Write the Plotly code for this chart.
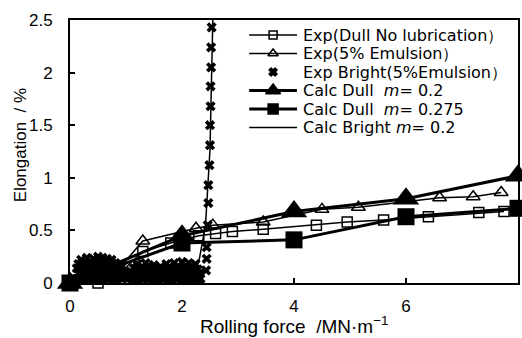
import plotly.graph_objects as go

# ---- data ----
exp_dull_x = [0, 0.25, 0.5, 0.9, 1.3, 1.8, 2.3, 2.6, 2.9, 3.45, 4.4, 4.95, 5.6, 6.4, 7.3, 7.75]
exp_dull_y = [0, -0.01, 0.0, 0.1, 0.3, 0.38, 0.45, 0.47, 0.49, 0.51, 0.55, 0.58, 0.6, 0.63, 0.67, 0.68]

exp_emul_x = [0, 0.25, 0.55, 0.85, 1.3, 2.25, 2.55, 3.45, 4.5, 5.15, 6.6, 7.2, 7.7]
exp_emul_y = [0, 0.05, 0.1, 0.12, 0.4, 0.52, 0.55, 0.58, 0.7, 0.72, 0.81, 0.82, 0.86]

# Exp Bright (5% Emulsion): dense cloud at low force, then the steep rise
bright_l1_x = [0.12, 0.18, 0.24, 0.30, 0.36, 0.42, 0.48, 0.54, 0.60, 0.66, 0.72, 0.78, 0.84, 0.90]
bright_l1_y = [0.04, 0.05, 0.03, 0.04, 0.05, 0.04, 0.03, 0.05, 0.04, 0.04, 0.05, 0.03, 0.04, 0.05]
bright_l2_x = [0.15, 0.21, 0.27, 0.33, 0.39, 0.45, 0.51, 0.57, 0.63, 0.69, 0.75, 0.81, 0.87, 0.93]
bright_l2_y = [0.09, 0.10, 0.09, 0.08, 0.10, 0.09, 0.09, 0.10, 0.08, 0.09, 0.10, 0.09, 0.08, 0.09]
bright_l3_x = [0.12, 0.18, 0.24, 0.30, 0.36, 0.42, 0.48, 0.54, 0.60, 0.66, 0.72, 0.78, 0.84, 0.90]
bright_l3_y = [0.14, 0.15, 0.14, 0.13, 0.15, 0.14, 0.14, 0.15, 0.13, 0.14, 0.15, 0.14, 0.13, 0.14]
bright_l4_x = [0.15, 0.21, 0.27, 0.33, 0.39, 0.45, 0.51, 0.57, 0.63, 0.69, 0.75, 0.81, 0.87, 0.93]
bright_l4_y = [0.18, 0.19, 0.20, 0.19, 0.18, 0.20, 0.19, 0.19, 0.20, 0.18, 0.19, 0.19, 0.17, 0.16]
bright_l5_x = [0.20, 0.30, 0.42, 0.50, 0.58, 0.66, 0.74]
bright_l5_y = [0.22, 0.24, 0.23, 0.25, 0.24, 0.23, 0.22]
bright_r1_x = [0.97, 1.02, 1.08, 1.14, 1.20, 1.26, 1.32, 1.38, 1.44, 1.50, 1.56, 1.62, 1.68, 1.74, 1.80, 1.86, 1.92, 1.98, 2.04, 2.10, 2.16, 2.22, 2.28, 2.33]
bright_r1_y = [0.05, 0.04, 0.05, 0.04, 0.03, 0.05, 0.04, 0.04, 0.05, 0.03, 0.04, 0.05, 0.04, 0.04, 0.03, 0.05, 0.04, 0.04, 0.05, 0.03, 0.04, 0.05, 0.04, 0.04]
bright_r2_x = [0.99, 1.05, 1.11, 1.17, 1.23, 1.29, 1.35, 1.41, 1.47, 1.53, 1.59, 1.65, 1.71, 1.77, 1.83, 1.89, 1.95, 2.01, 2.07, 2.13, 2.19, 2.25, 2.31]
bright_r2_y = [0.11, 0.09, 0.10, 0.09, 0.08, 0.10, 0.09, 0.09, 0.10, 0.08, 0.09, 0.10, 0.09, 0.09, 0.08, 0.10, 0.09, 0.09, 0.10, 0.08, 0.09, 0.10, 0.09]
bright_r3_x = [1.14, 1.20, 1.26, 1.32, 1.38, 1.44, 1.50, 1.56, 1.62, 1.68, 1.74, 1.80, 1.86, 1.92, 1.98, 2.04, 2.10, 2.16, 2.22, 2.28]
bright_r3_y = [0.14, 0.15, 0.13, 0.14, 0.15, 0.14, 0.13, 0.14, 0.15, 0.14, 0.13, 0.14, 0.15, 0.14, 0.13, 0.15, 0.14, 0.15, 0.14, 0.13]
bright_r4_x = [1.20, 1.35, 1.50, 1.72, 1.86, 2.00, 2.12, 2.24]
bright_r4_y = [0.18, 0.19, 0.17, 0.18, 0.19, 0.20, 0.19, 0.18]
bright_rise_x = [2.43, 2.44, 2.44, 2.46, 2.47, 2.47, 2.49, 2.50, 2.50, 2.51, 2.51, 2.52, 2.52, 2.53]
bright_rise_y = [0.12, 0.23, 0.34, 0.55, 0.76, 0.93, 1.12, 1.31, 1.50, 1.68, 1.87, 2.05, 2.24, 2.43]

bright_x = (bright_l1_x + bright_l2_x + bright_l3_x + bright_l4_x + bright_l5_x +
            bright_r1_x + bright_r2_x + bright_r3_x + bright_r4_x + bright_rise_x)
bright_y = (bright_l1_y + bright_l2_y + bright_l3_y + bright_l4_y + bright_l5_y +
            bright_r1_y + bright_r2_y + bright_r3_y + bright_r4_y + bright_rise_y)

calc_x = [0, 2, 4, 6, 8]
calc02_y = [0, 0.45, 0.68, 0.8, 1.02]
calc0275_y = [0, 0.38, 0.41, 0.63, 0.71]

calc_bright_x = [0, 0.3, 1.0, 2.2, 2.3, 2.42, 2.5, 2.55]
calc_bright_y = [0, 0.1, 0.1, 0.12, 0.2, 0.55, 1.27, 2.5]

x_ticks = [0, 2, 4, 6, 8]
y_ticks = [0, 0.5, 1, 1.5, 2, 2.5]
y_tick_text = ["0", "0.5", "1", "1.5", "2", "2.5"]

legend_names = ["Exp(Dull No lubrication）", "Exp(5% Emulsion）", "Exp Bright(5%Emulsion）",
                "Calc Dull  <i>m</i>= 0.2", "Calc Dull  <i>m</i>= 0.275", "Calc Bright <i>m</i>= 0.2"]
x_title = "Rolling force  /MN·m<sup>−1</sup>"
y_title = "Elongation  / %"

FONT = "Liberation Sans, Arial, sans-serif"
LFONT = "DejaVu Sans, sans-serif"

# legend sample styles per series
styles = [
    dict(lw=1.5, sym="square-open", lms=8),
    dict(lw=1.5, sym="triangle-up-open", lms=9),
    dict(lw=0, sym="x", lms=7),
    dict(lw=3, sym="triangle-up", lms=13),
    dict(lw=3, sym="square", lms=10),
    dict(lw=1.5, sym=None, lms=0),
]

fig = go.Figure()
fig.add_trace(go.Scatter(
    x=exp_dull_x, y=exp_dull_y, mode="lines+markers", name=legend_names[0],
    line=dict(color="black", width=1.5),
    marker=dict(symbol="square-open", size=10, color="black", line=dict(width=1.5)),
    cliponaxis=False, showlegend=False))
fig.add_trace(go.Scatter(
    x=exp_emul_x, y=exp_emul_y, mode="lines+markers", name=legend_names[1],
    line=dict(color="black", width=1.5),
    marker=dict(symbol="triangle-up-open", size=12, color="black", line=dict(width=1.5)),
    cliponaxis=False, showlegend=False))
fig.add_trace(go.Scatter(
    x=bright_x, y=bright_y, mode="markers", name=legend_names[2],
    marker=dict(symbol="x", size=9, color="black"),
    cliponaxis=False, showlegend=False))
fig.add_trace(go.Scatter(
    x=calc_x, y=calc02_y, mode="lines+markers", name=legend_names[3],
    line=dict(color="black", width=3),
    marker=dict(symbol="triangle-up", size=23, color="black"),
    cliponaxis=False, showlegend=False))
fig.add_trace(go.Scatter(
    x=calc_x, y=calc0275_y, mode="lines+markers", name=legend_names[4],
    line=dict(color="black", width=3),
    marker=dict(symbol="square", size=17, color="black"),
    cliponaxis=False, showlegend=False))
fig.add_trace(go.Scatter(
    x=calc_bright_x, y=calc_bright_y, mode="lines", name=legend_names[5],
    line=dict(color="black", width=1.5),
    cliponaxis=False, showlegend=False))

# ---- legend drawn inside the plot on a hidden 0..1 overlay axis ----
PLOT_L, PLOT_R, PLOT_T, PLOT_B = 70, 520, 20, 283
def px_x(p):
    return (p - PLOT_L) / (PLOT_R - PLOT_L)
def px_y(p):
    return (PLOT_B - p) / (PLOT_B - PLOT_T)

leg_rows = [35, 53.5, 72, 90.5, 109, 127.5]
leg_x0, leg_xm, leg_x1, leg_tx = px_x(250), px_x(274), px_x(298), px_x(302)
annotations = []
for i, (name, st) in enumerate(zip(legend_names, styles)):
    yy = px_y(leg_rows[i])
    if st["lw"] > 0:
        fig.add_trace(go.Scatter(x=[leg_x0, leg_x1], y=[yy, yy], mode="lines",
                                 line=dict(color="black", width=st["lw"]),
                                 xaxis="x2", yaxis="y2", showlegend=False, hoverinfo="skip"))
    if st["sym"]:
        fig.add_trace(go.Scatter(x=[leg_xm], y=[yy], mode="markers",
                                 marker=dict(symbol=st["sym"], size=st["lms"], color="black",
                                             line=dict(width=1.5, color="black")),
                                 xaxis="x2", yaxis="y2", showlegend=False, hoverinfo="skip",
                                 cliponaxis=False))
    annotations.append(dict(x=leg_tx, y=yy, xref="x2", yref="y2", text=name,
                            showarrow=False, xanchor="left", yanchor="middle",
                            font=dict(family=LFONT, size=16, color="black")))

# axis titles
annotations.append(dict(x=0.5, y=px_y(325), xref="paper", yref="paper", text=x_title,
                        showarrow=False, xanchor="center", yanchor="middle",
                        font=dict(family=FONT, size=19, color="black")))
annotations.append(dict(x=px_x(20), y=px_y(145), xref="paper", yref="paper", text=y_title,
                        showarrow=False, xanchor="center", yanchor="middle", textangle=-90,
                        font=dict(family=FONT, size=17, color="black")))

fig.update_layout(
    width=522, height=338,
    margin=dict(l=PLOT_L, r=522 - PLOT_R, t=PLOT_T, b=338 - PLOT_B),
    paper_bgcolor="white", plot_bgcolor="white",
    font=dict(family=FONT, size=16, color="black"),
    showlegend=False,
    annotations=annotations,
    xaxis=dict(
        range=[0, 8], tickvals=x_ticks, ticktext=[str(v) for v in x_ticks],
        ticks="inside", ticklen=5, tickwidth=1.5, tickcolor="black",
        showline=True, linecolor="black", linewidth=2, mirror=True,
        showgrid=False, zeroline=False, ticklabelstandoff=7,
        tickfont=dict(size=17),
    ),
    yaxis=dict(
        range=[0, 2.5], tickvals=y_ticks, ticktext=y_tick_text,
        ticks="inside", ticklen=5, tickwidth=1.5, tickcolor="black",
        showline=True, linecolor="black", linewidth=2, mirror=True,
        showgrid=False, zeroline=False, ticklabelstandoff=12,
        tickfont=dict(size=17),
    ),
    xaxis2=dict(overlaying="x", range=[0, 1], visible=False, fixedrange=True),
    yaxis2=dict(overlaying="y", range=[0, 1], visible=False, fixedrange=True),
)

fig.write_html("out.html")
